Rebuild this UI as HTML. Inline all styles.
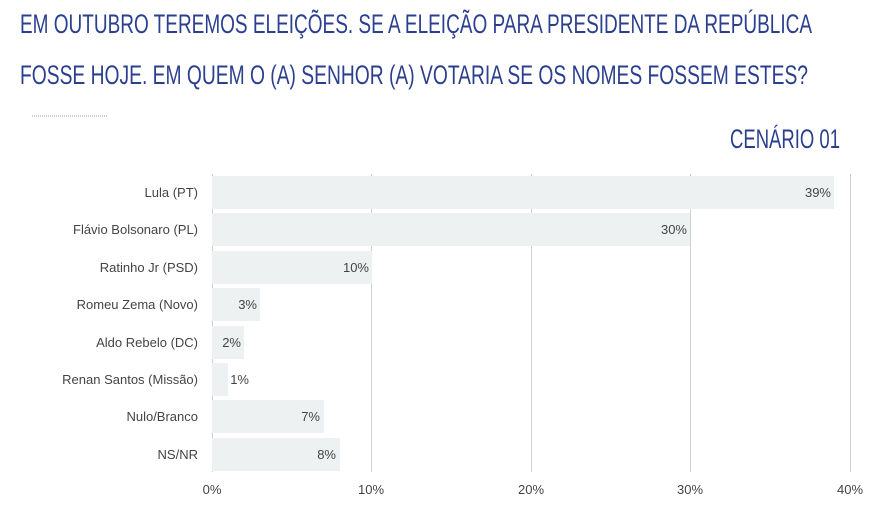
<!DOCTYPE html>
<html><head><meta charset="utf-8"><style>
body{margin:0;background:#fff;}
svg{display:block;font-family:"Liberation Sans",sans-serif;}
</style></head><body>
<svg width="895" height="513" viewBox="0 0 895 513">
<rect width="895" height="513" fill="#fff"/>
<g fill="#2b3f8f" font-size="27">
<text x="20" y="33" textLength="792" lengthAdjust="spacingAndGlyphs">EM OUTUBRO TEREMOS ELEIÇÕES. SE A ELEIÇÃO PARA PRESIDENTE DA REPÚBLICA</text>
<text x="20" y="84" textLength="788" lengthAdjust="spacingAndGlyphs">FOSSE HOJE. EM QUEM O (A) SENHOR (A) VOTARIA SE OS NOMES FOSSEM ESTES?</text>
<text x="730" y="148" textLength="110" lengthAdjust="spacingAndGlyphs">CENÁRIO 01</text>
</g>
<line x1="32" y1="116" x2="107" y2="116" stroke="#999" stroke-dasharray="1,1"/>
<g stroke="#d0d0d0" stroke-width="1">
<line x1="212.5" y1="174" x2="212.5" y2="472"/>
<line x1="371.5" y1="174" x2="371.5" y2="472"/>
<line x1="531.5" y1="174" x2="531.5" y2="472"/>
<line x1="690.5" y1="174" x2="690.5" y2="472"/>
<line x1="850.5" y1="174" x2="850.5" y2="472"/>
</g>
<g fill="#eef1f1">
<rect x="212" y="176" width="622" height="33"/>
<rect x="212" y="213" width="478" height="33"/>
<rect x="212" y="251" width="160" height="33"/>
<rect x="212" y="288" width="48" height="33"/>
<rect x="212" y="326" width="32" height="33"/>
<rect x="212" y="363" width="16" height="33"/>
<rect x="212" y="400" width="112" height="33"/>
<rect x="212" y="438" width="128" height="33"/>
</g>
<g fill="#444" font-size="13" text-anchor="end">
<text x="198" y="197">Lula (PT)</text>
<text x="198" y="234">Flávio Bolsonaro (PL)</text>
<text x="198" y="272">Ratinho Jr (PSD)</text>
<text x="198" y="309">Romeu Zema (Novo)</text>
<text x="198" y="347">Aldo Rebelo (DC)</text>
<text x="198" y="384">Renan Santos (Missão)</text>
<text x="198" y="421">Nulo/Branco</text>
<text x="198" y="459">NS/NR</text>
<text x="831" y="197">39%</text>
<text x="687" y="234">30%</text>
<text x="369" y="272">10%</text>
<text x="257" y="309">3%</text>
<text x="241" y="347">2%</text>
<text x="249" y="384">1%</text>
<text x="320" y="421">7%</text>
<text x="336" y="459">8%</text>
</g>
<g fill="#444" font-size="13" text-anchor="middle">
<text x="212" y="494">0%</text>
<text x="371" y="494">10%</text>
<text x="531" y="494">20%</text>
<text x="690" y="494">30%</text>
<text x="850" y="494">40%</text>
</g>
</svg>
</body></html>
